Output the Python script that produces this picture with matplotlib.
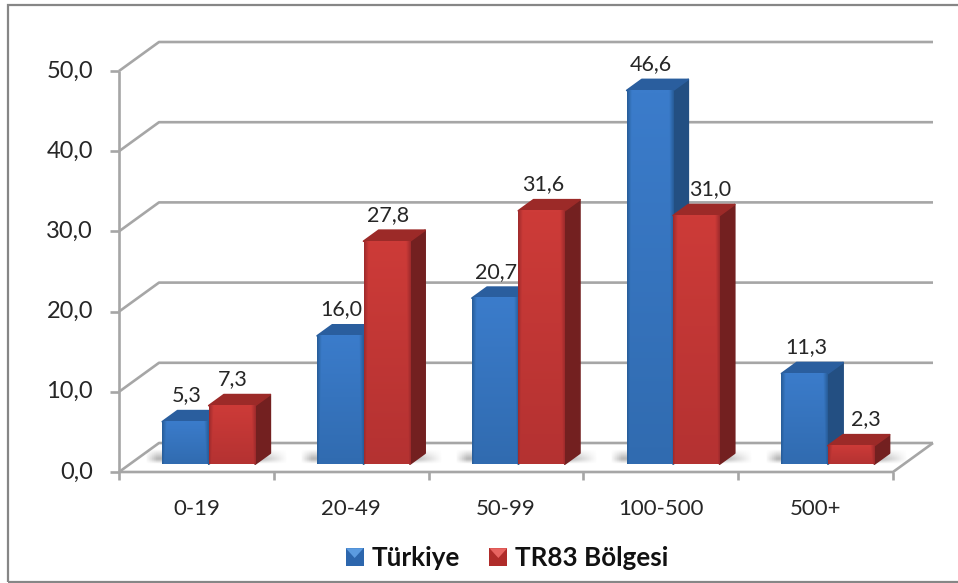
import matplotlib

matplotlib.use("Agg")
import matplotlib.pyplot as plt
import numpy as np
from matplotlib.colors import to_rgb
from matplotlib.legend_handler import HandlerBase
from matplotlib.patches import Patch, Polygon, Rectangle

categories = ["0-19", "20-49", "50-99", "100-500", "500+"]
turkiye = [5.3, 16.0, 20.7, 46.6, 11.3]
tr83 = [7.3, 27.8, 31.6, 31.0, 2.3]
series_names = ["Türkiye", "TR83 Bölgesi"]
y_ticks = [0, 10, 20, 30, 40, 50]

W, H = 958, 583
FONT = "Lato"
GRID = "#a6a6a6"
TEXT = "#262626"

# pixel anchors of the fake 3D box
X0_PX, X1_PX = 119, 893
Y0_PX, Y50_PX = 472, 71
DEPTH_DX_PX, DEPTH_DY_PX = 40, 29
BAR_FRONT, BAR_BACK = 0.27, 0.65
BAR_W = 0.30

# (face dark, face light, top, side)
PALETTE = [
    ("#24578f", "#3b7ccb", "#2a5e9e", "#234f82"),
    ("#96272a", "#cd3b38", "#9c2a28", "#732020"),
]
# hand offsets for labels that sit off their bar: (series, category) -> pt
LABEL_NUDGE = {(1, 3): 9, (1, 4): 10}


class CubeHandler(HandlerBase):
    def create_artists(self, legend, orig, xd, yd, width, height, fontsize, trans):
        x0, y0 = -xd, -yd
        side = height * 0.98
        face = Rectangle((x0, y0), side, side, fc=orig.get_facecolor(), ec="none", transform=trans)
        tip = Polygon(
            [(x0, y0 + side), (x0 + side, y0 + side), (x0 + side / 2, y0 + side * 0.45)],
            fc=orig.get_edgecolor(),
            ec="none",
            transform=trans,
        )
        return [face, tip]


def floor_shadow(ax, x_left, x_right, dep_dx, dep_dy, x_per_px):
    # soft grey smear behind the bar foot
    rgba = np.zeros((20, 80, 4))
    xs = np.linspace(0, 1, 80)
    ys = np.linspace(0, 1, 20)
    env_x = np.minimum(np.minimum(xs / 0.08, (1 - xs) / 0.2), 1)
    env_y = np.minimum(ys / 0.3, (1 - ys) / 0.6).clip(0, 1)
    rgba[..., :3] = 0.5
    rgba[..., 3] = env_x[None, :] * env_y[:, None] * 0.55
    ax.imshow(
        rgba,
        extent=(
            x_left - 6 * x_per_px,
            x_right + BAR_BACK * dep_dx + 18 * x_per_px,
            BAR_FRONT * dep_dy,
            (BAR_BACK + 0.12) * dep_dy,
        ),
        aspect="auto",
        origin="lower",
        zorder=1.5,
    )


def face_image(dark, light):
    # brighter in the middle and top, dark rim at the sides and foot
    xs = np.linspace(0, 1, 46)
    ys = np.linspace(0, 1, 64)[:, None]
    rim = np.maximum(1 - xs / 0.1, 1 - (1 - xs) / 0.1).clip(0, 1)[None, :]
    t = np.maximum(rim * 0.8, ys * 0.45)[..., None]
    return np.array(to_rgb(light)) * (1 - t) + np.array(to_rgb(dark)) * t


def draw_bar(ax, left, value, colors, dep_dx, dep_dy, z):
    dark, light, top_c, side_c = colors
    f_x0 = left + BAR_FRONT * dep_dx
    f_x1 = f_x0 + BAR_W
    f_y0 = BAR_FRONT * dep_dy
    f_y1 = f_y0 + value
    dx = (BAR_BACK - BAR_FRONT) * dep_dx
    dy = (BAR_BACK - BAR_FRONT) * dep_dy

    side = Polygon(
        [(f_x1, f_y0), (f_x1 + dx, f_y0 + dy), (f_x1 + dx, f_y1 + dy), (f_x1, f_y1)],
        fc=side_c,
        ec=side_c,
        lw=1.2,
        joinstyle="round",
        zorder=z,
    )
    top = Polygon(
        [(f_x0, f_y1), (f_x1, f_y1), (f_x1 + dx, f_y1 + dy), (f_x0 + dx, f_y1 + dy)],
        fc=top_c,
        ec=top_c,
        lw=1.2,
        joinstyle="round",
        zorder=z,
    )
    ax.add_patch(side)
    ax.add_patch(top)

    ax.imshow(
        face_image(dark, light),
        extent=(f_x0, f_x1, f_y0, f_y1),
        aspect="auto",
        origin="upper",
        zorder=z + 0.1,
    )
    return f_x0 + BAR_W / 2 + dx, f_y1 + dy


fig = plt.figure(figsize=(W / 100, H / 100), dpi=100, facecolor="white")
ax = fig.add_axes([0, 0, 1, 1])

# data units per pixel, limits chosen so the axes fill the whole canvas
x_per_px = len(categories) / (X1_PX - X0_PX)
y_per_px = 50 / (Y0_PX - Y50_PX)
ax.set_xlim(-X0_PX * x_per_px, (W - X0_PX) * x_per_px)
ax.set_ylim(-(H - Y0_PX) * y_per_px, Y0_PX * y_per_px)
ax.axis("off")
xlim, ylim = ax.get_xlim(), ax.get_ylim()

dep_dx = DEPTH_DX_PX * x_per_px
dep_dy = DEPTH_DY_PX * y_per_px
n_cat = len(categories)

# outer border runs off the right edge of the crop
frame = Rectangle(
    (8 / W, 1 - 582 / H), 960 / W, 577 / H, transform=fig.transFigure, fc="none", ec="#868686", lw=1.6, zorder=0
)
fig.add_artist(frame)

line_kw = dict(color=GRID, lw=1.9, solid_capstyle="butt", zorder=1)
for v in y_ticks:
    ax.plot([0, dep_dx, n_cat + dep_dx], [v, v + dep_dy, v + dep_dy], **line_kw)
    ax.plot([-9 * x_per_px, 0], [v, v], **line_kw)
    ax.text(
        -26 * x_per_px, v, f"{v:.1f}".replace(".", ","), ha="right", va="center", fontsize=17, family=FONT, color=TEXT
    )
ax.plot([0, 0], [0, 50], **line_kw)
ax.plot([0, n_cat, n_cat + dep_dx], [0, 0, dep_dy], **line_kw)
for i in range(n_cat + 1):
    ax.plot([i, i], [0, -8 * y_per_px], **line_kw)

gap = (1 - 2 * BAR_W) / 2
for i, name in enumerate(categories):
    left = i + gap + 1.5 * x_per_px
    floor_shadow(ax, left, left + 2 * BAR_W, dep_dx, dep_dy, x_per_px)
    for s, values in enumerate((turkiye, tr83)):
        tx, ty = draw_bar(ax, left + s * BAR_W, values[i], PALETTE[s], dep_dx, dep_dy, 2 + s * 0.5)
        ax.annotate(
            f"{values[i]:.1f}".replace(".", ","),
            (tx, ty),
            xytext=(LABEL_NUDGE.get((s, i), 0) - 10, 11),
            textcoords="offset points",
            ha="center",
            va="center",
            fontsize=15.5,
            family=FONT,
            color=TEXT,
            zorder=5,
        )
    ax.text(i + 0.5, -37 * y_per_px, name, ha="center", va="center", fontsize=16, family=FONT, color=TEXT)

ax.set_xlim(xlim)
ax.set_ylim(ylim)

handles = [
    Patch(facecolor="#2c66ad", edgecolor="#5b9be0", label=series_names[0]),
    Patch(facecolor="#b02c2a", edgecolor="#e86461", label=series_names[1]),
]
leg = ax.legend(
    handles=handles,
    handler_map={Patch: CubeHandler()},
    ncols=2,
    loc="center",
    bbox_to_anchor=(507 / W, 1 - 558 / H),
    frameon=False,
    prop={"family": FONT, "weight": "bold", "size": 18.7},
    handlelength=0.78,
    handletextpad=0.2,
    columnspacing=1.15,
    labelcolor="#111111",
)

fig.savefig("out.png", dpi=100)
